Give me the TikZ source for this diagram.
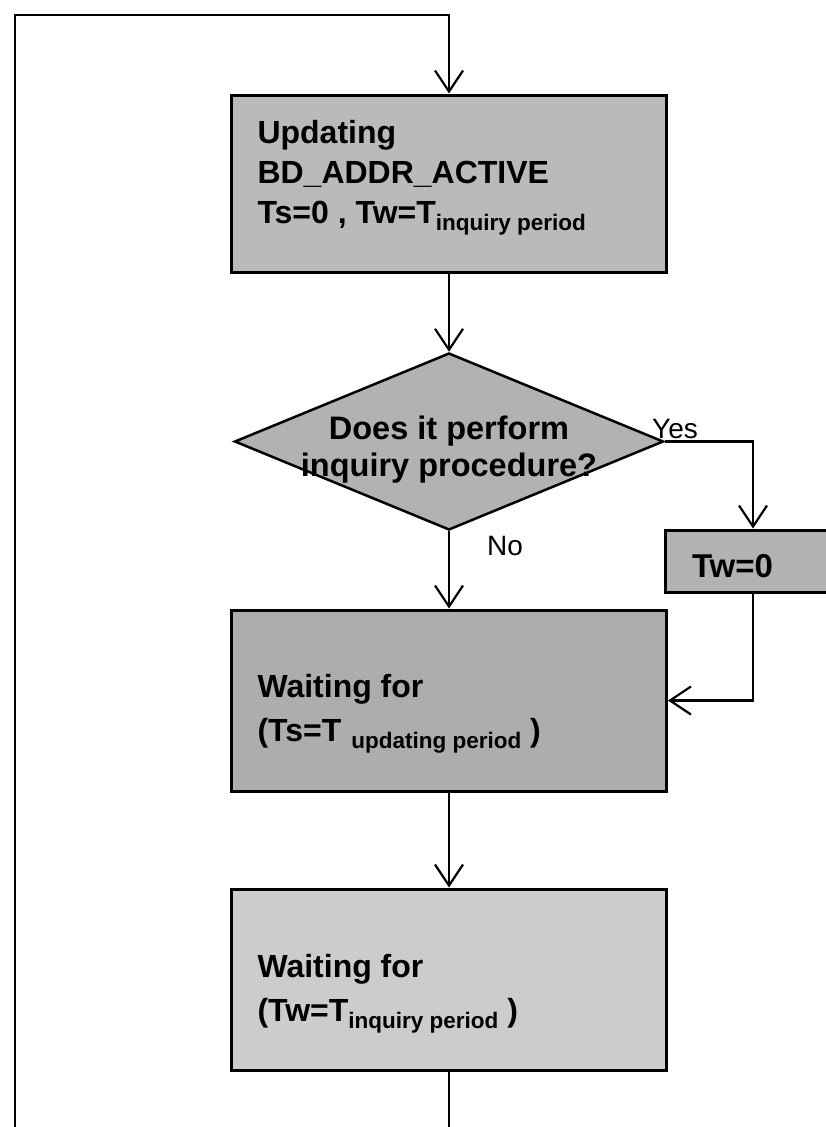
\documentclass[tikz,border=0pt]{standalone}
\usepackage{fontspec}
\setmainfont{Liberation Sans}
\usetikzlibrary{shapes.geometric,arrows.meta}
\newcommand{\subtx}[1]{\raisebox{-7pt}{\fontsize{22.5}{22}\selectfont #1}}
\begin{document}
\begin{tikzpicture}[x=1pt,y=-1pt,
  proc/.style={draw=black, line width=3pt, rectangle, minimum width=435pt,
    inner xsep=26pt, inner ysep=0pt, font=\fontsize{32}{40}\selectfont\bfseries},
  dec/.style={draw=black, line width=2.5pt, diamond, minimum width=429pt,
    minimum height=177pt, inner sep=0pt, font=\fontsize{32.5}{37}\selectfont\bfseries},
  conn/.style={line width=2.2pt, line join=miter, -{Straight Barb[length=21pt,width=28pt]}},
  lbl/.style={font=\fontsize{28}{28}\selectfont, inner sep=0pt}]
\useasboundingbox (0,0) rectangle (826,1127);
\clip (0,0) rectangle (826,1127);

% nodes
\node[proc, minimum height=177pt, fill=black!27] (b1) at (449,183.5)
  {\makebox[383pt][l]{\raisebox{40.5pt}[0pt][0pt]{\begin{tabular}[t]{@{}l@{}}Updating\\BD\_ADDR\_ACTIVE\\Ts=0 , Tw=T\subtx{inquiry period}\end{tabular}}}};

\node[dec, fill=black!30] (q) at (449,441.5)
  {\raisebox{2pt}[0pt][0pt]{\makebox[0pt]{\begin{tabular}[t]{@{}c@{}}Does it perform\\inquiry procedure?\end{tabular}}}};

\node[proc, minimum width=176pt, minimum height=62pt, inner xsep=27pt, fill=black!30,
  font=\fontsize{33}{40}\selectfont\bfseries] (tw) at (753,561)
  {\makebox[122pt][l]{\raisebox{-16pt}[0pt][0pt]{Tw=0}}};

\node[proc, minimum height=181pt, fill=black!32] (b3) at (449,700.5)
  {\makebox[383pt][l]{\raisebox{3.5pt}[0pt][0pt]{\begin{tabular}[t]{@{}l@{}}Waiting for\\[4pt](Ts=T\hspace{10pt}\subtx{updating period} )\end{tabular}}}};

\node[proc, minimum height=181pt, fill=black!20] (b4) at (449,979.5)
  {\makebox[383pt][l]{\raisebox{2.5pt}[0pt][0pt]{\begin{tabular}[t]{@{}l@{}}Waiting for\\[4pt](Tw=T\subtx{inquiry period} )\end{tabular}}}};

% labels
\node[lbl, anchor=base west] (yes) at (652,438) {Yes};
\node[lbl, anchor=base west] (no) at (487,555) {No};

% loop coordinates
\coordinate (tl) at (15,15);
\coordinate (tr) at (449,15);
\coordinate (bl) at (15,1200);
\coordinate (bm) at (449,1200);

% connectors
\draw[conn] (b4.south) -- (bm) -- (bl) -- (tl) -- (tr) -- (b1.north);
\draw[conn] (b1.south) -- (q.north);
\draw[conn] (q.south) -- (b3.north);
\draw[conn] (q.east) -| (tw.north);
\draw[conn] (tw.south) |- (b3.east);
\draw[conn] (b3.south) -- (b4.north);
\end{tikzpicture}
\end{document}
